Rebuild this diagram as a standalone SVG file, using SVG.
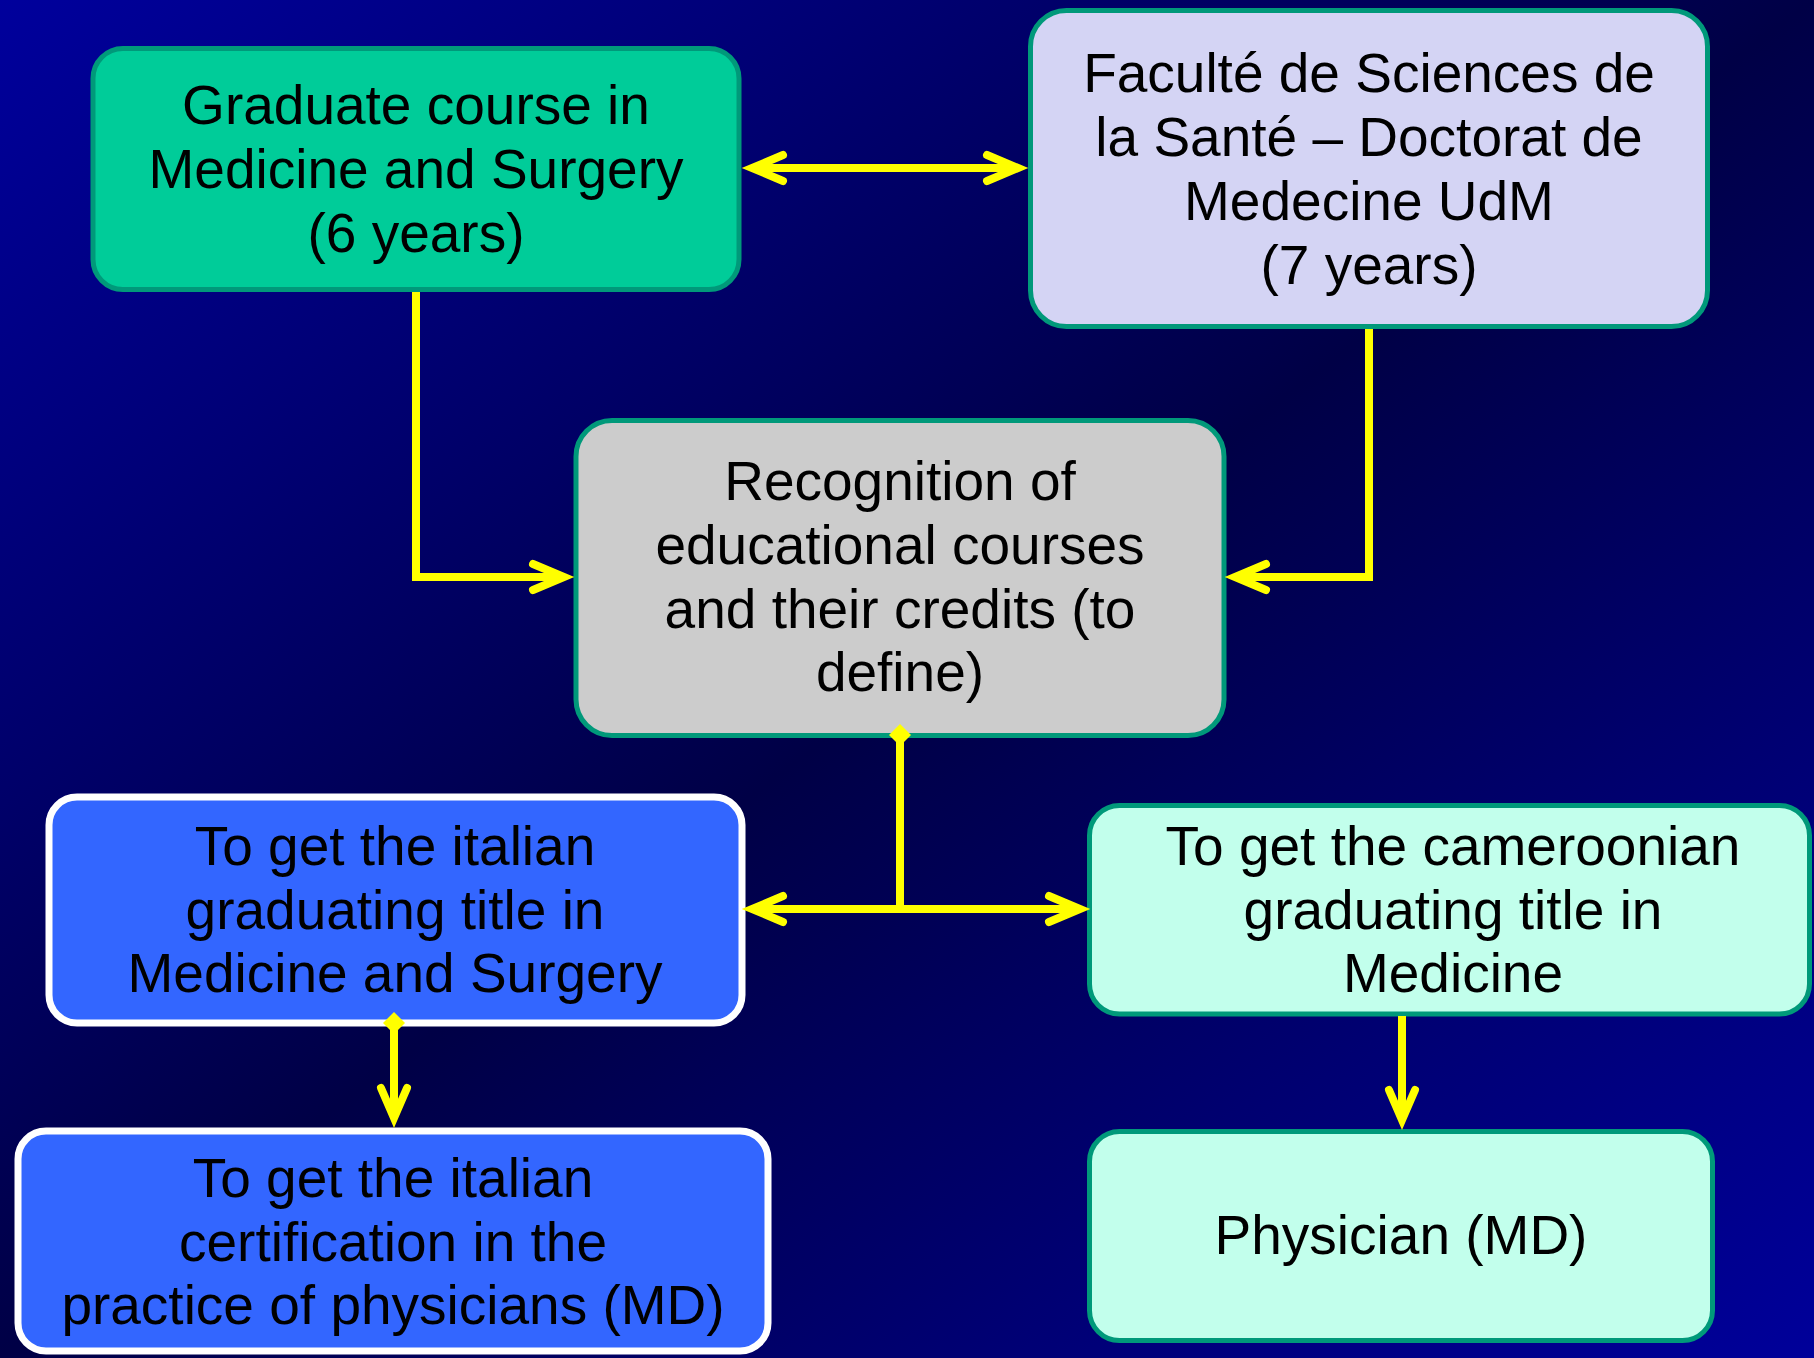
<svg xmlns="http://www.w3.org/2000/svg" width="1814" height="1358" viewBox="0 0 1814 1358">
  <defs>
    <linearGradient id="bg" x1="0" y1="0" x2="1" y2="1">
      <stop offset="0" stop-color="#00009C"/>
      <stop offset="0.5" stop-color="#000046"/>
      <stop offset="1" stop-color="#00009A"/>
    </linearGradient>
  </defs>
  <style>
    .box { stroke: #00997A; stroke-width: 5; }
    .wbox { stroke: #FFFFFF; stroke-width: 7; fill: #3366FF; }
    .t { font-family: "Liberation Sans", Arial, sans-serif; font-size: 55px; fill: #000000; text-anchor: middle; }
    .c { fill: none; stroke: #FFFF00; stroke-width: 8; stroke-linejoin: miter; }
    .h { fill: none; stroke: #FFFF00; stroke-width: 8; stroke-linecap: round; stroke-linejoin: miter; stroke-miterlimit: 10; }
    .d { fill: #FFFF00; }
  </style>
  <rect x="0" y="0" width="1814" height="1358" fill="url(#bg)"/>

  <g id="node-graduate">
    <rect class="box" x="93" y="48.5" width="646" height="241" rx="30" fill="#00CC99"/>
    <text class="t" x="416" y="124">Graduate course in</text>
    <text class="t" x="416" y="188">Medicine and Surgery</text>
    <text class="t" x="416" y="252">(6 years)</text>
  </g>

  <g id="node-faculte">
    <rect class="box" x="1030.5" y="10.5" width="677" height="316" rx="36" fill="#D4D4F4"/>
    <text class="t" x="1369" y="92">Faculté de Sciences de</text>
    <text class="t" x="1369" y="156">la Santé – Doctorat de</text>
    <text class="t" x="1369" y="220">Medecine UdM</text>
    <text class="t" x="1369" y="284">(7 years)</text>
  </g>

  <g id="node-recognition">
    <rect class="box" x="576" y="420.5" width="648" height="315" rx="36" fill="#CCCCCC"/>
    <text class="t" x="900" y="500">Recognition of</text>
    <text class="t" x="900" y="564">educational courses</text>
    <text class="t" x="900" y="628">and their credits (to</text>
    <text class="t" x="900" y="691">define)</text>
  </g>

  <g id="node-italian-title">
    <rect class="wbox" x="49" y="797" width="693" height="226" rx="28"/>
    <text class="t" x="395" y="865">To get the italian</text>
    <text class="t" x="395" y="929">graduating title in</text>
    <text class="t" x="395" y="992">Medicine and Surgery</text>
  </g>

  <g id="node-cameroon-title">
    <rect class="box" x="1089.5" y="805.5" width="720" height="208.5" rx="30" fill="#C2FFEC"/>
    <text class="t" x="1453" y="865">To get the cameroonian</text>
    <text class="t" x="1453" y="929">graduating title in</text>
    <text class="t" x="1453" y="992">Medicine</text>
  </g>

  <g id="node-italian-cert">
    <rect class="wbox" x="18" y="1131" width="750" height="220" rx="28"/>
    <text class="t" x="393" y="1197">To get the italian</text>
    <text class="t" x="393" y="1261">certification in the</text>
    <text class="t" x="393" y="1324">practice of physicians (MD)</text>
  </g>

  <g id="node-physician">
    <rect class="box" x="1089.5" y="1131.5" width="623" height="209" rx="30" fill="#C2FFEC"/>
    <text class="t" x="1401" y="1254">Physician (MD)</text>
  </g>

  <g id="connectors">
    <!-- node1 <-> node2 -->
    <line class="c" x1="754" y1="168" x2="1016" y2="168"/>
    <path class="h" d="M783,155 L752,168 L783,181"/>
    <path class="h" d="M987,155 L1018,168 L987,181"/>
    <!-- node1 -> recognition -->
    <polyline class="c" points="416,292 416,577 562,577"/>
    <path class="h" d="M533,564 L564,577 L533,590"/>
    <!-- node2 -> recognition -->
    <polyline class="c" points="1369,329 1369,577 1237,577"/>
    <path class="h" d="M1266,564 L1235,577 L1266,590"/>
    <!-- recognition -> split -->
    <polygon class="d" points="900,724 911,735 900,746 889,735"/>
    <line class="c" x1="900" y1="740" x2="900" y2="909"/>
    <line class="c" x1="754" y1="909" x2="1078" y2="909"/>
    <path class="h" d="M783,896 L752,909 L783,922"/>
    <path class="h" d="M1049,896 L1080,909 L1049,922"/>
    <!-- node4 -> node6 -->
    <polygon class="d" points="394,1012 405,1023 394,1034 383,1023"/>
    <line class="c" x1="394" y1="1028" x2="394" y2="1116"/>
    <path class="h" d="M381,1088 L394,1118 L407,1088"/>
    <!-- node5 -> node7 -->
    <line class="c" x1="1402" y1="1016" x2="1402" y2="1118"/>
    <path class="h" d="M1389,1090 L1402,1120 L1415,1090"/>
  </g>
</svg>
